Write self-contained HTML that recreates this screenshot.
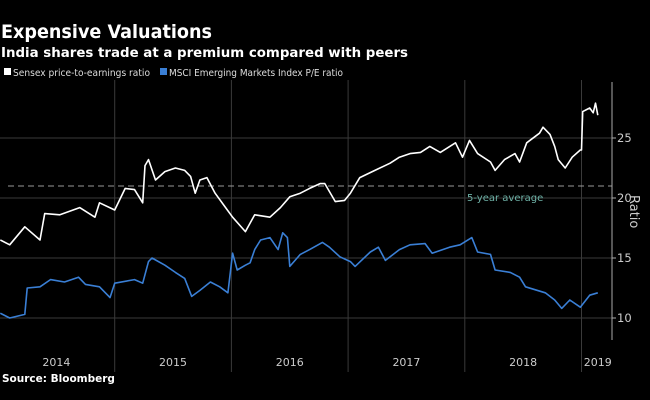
<!DOCTYPE html>
<html><head><meta charset="utf-8"><style>
body{margin:0;background:#000;width:650px;height:400px;overflow:hidden;font-family:"DejaVu Sans","Liberation Sans",sans-serif;color:#fff}
</style></head><body>
<svg id="c" width="650" height="400" style="position:absolute;left:0;top:0">
<text x="1" y="38" font-size="19" font-weight="bold" fill="#fff" textLength="211" lengthAdjust="spacingAndGlyphs">Expensive Valuations</text>
<text x="1" y="57" font-size="13.5" font-weight="bold" fill="#fff" textLength="407" lengthAdjust="spacingAndGlyphs">India shares trade at a premium compared with peers</text>
<g>
<rect x="4" y="68" width="7" height="7" fill="#fff"/>
<text x="13" y="76" font-size="10" fill="#ddd" textLength="137" lengthAdjust="spacingAndGlyphs">Sensex price-to-earnings ratio</text>
<rect x="160" y="68" width="7" height="7" fill="#3a7fd5"/>
<text x="169" y="76" font-size="10" fill="#ddd" textLength="174" lengthAdjust="spacingAndGlyphs">MSCI Emerging Markets Index P/E ratio</text>
</g>
<g id="grid"></g><g id="series"></g><g id="axes"></g>
<text x="2" y="382" font-size="10.5" font-weight="bold" fill="#fff">Source: Bloomberg</text>
</svg>
<script>
const yTicks=[10,15,20,25];
const years=["2014","2015","2016","2017","2018","2019"];
const avgValue=21;
const sensexT=[0.02,0.10,0.23,0.36,0.40,0.53,0.70,0.83,0.87,1.00,1.09,1.17,1.24,1.26,1.29,1.35,1.43,1.52,1.60,1.65,1.69,1.73,1.79,1.86,1.95,2.01,2.12,2.20,2.33,2.42,2.50,2.59,2.67,2.76,2.80,2.89,2.97,3.02,3.10,3.23,3.36,3.44,3.53,3.62,3.70,3.79,3.92,3.98,4.04,4.11,4.22,4.26,4.34,4.43,4.47,4.53,4.64,4.67,4.73,4.77,4.80,4.86,4.92,4.99,5.00,5.01,5.07,5.10,5.12,5.14];
const sensexV=[16.5,16.1,17.6,16.5,18.7,18.6,19.2,18.4,19.6,19.0,20.8,20.7,19.6,22.7,23.2,21.5,22.2,22.5,22.3,21.8,20.4,21.5,21.7,20.4,19.2,18.4,17.2,18.6,18.4,19.2,20.1,20.4,20.8,21.2,21.2,19.7,19.8,20.4,21.7,22.3,22.9,23.4,23.7,23.8,24.3,23.8,24.6,23.4,24.8,23.7,23.0,22.3,23.2,23.7,23.0,24.6,25.4,25.9,25.3,24.3,23.2,22.5,23.4,24.0,24.0,27.2,27.5,27.1,27.9,26.9];
const msciT=[0.02,0.10,0.23,0.25,0.36,0.45,0.57,0.69,0.75,0.87,0.96,1.00,1.17,1.24,1.29,1.32,1.43,1.52,1.60,1.66,1.73,1.82,1.90,1.97,2.01,2.05,2.12,2.16,2.20,2.25,2.33,2.40,2.44,2.48,2.50,2.59,2.67,2.78,2.84,2.93,3.02,3.06,3.19,3.26,3.32,3.44,3.53,3.66,3.72,3.87,3.96,4.06,4.11,4.22,4.26,4.39,4.47,4.52,4.69,4.77,4.83,4.90,4.99,5.07,5.14];
const msciV=[10.4,10.0,10.3,12.5,12.6,13.2,13.0,13.4,12.8,12.6,11.7,12.9,13.2,12.9,14.7,15.0,14.4,13.8,13.3,11.8,12.3,13.0,12.6,12.1,15.4,14.0,14.4,14.6,15.7,16.5,16.7,15.7,17.1,16.7,14.3,15.3,15.7,16.3,15.9,15.1,14.7,14.3,15.5,15.9,14.8,15.7,16.1,16.2,15.4,15.9,16.1,16.7,15.5,15.3,14.0,13.8,13.4,12.6,12.1,11.5,10.8,11.5,10.9,11.9,12.1];
const NS="http://www.w3.org/2000/svg";
const X0=-2,PX=116.7,AX=612;
const xs=t=>X0+t*PX;
const ys=v=>318-(v-10)*12;
function mk(tag,attrs,parent){const e=document.createElementNS(NS,tag);for(const k in attrs)e.setAttribute(k,attrs[k]);parent.appendChild(e);return e;}
const grid=document.getElementById('grid'),axes=document.getElementById('axes'),ser=document.getElementById('series');
yTicks.forEach(v=>{
 const l=mk('line',{x1:0,x2:AX,y1:ys(v),y2:ys(v),stroke:'#3a3a3a','stroke-width':1},grid);
 
 
 const tk=mk('line',{x1:AX,x2:AX+4,y1:ys(v),y2:ys(v),stroke:'#aaa'},axes);
 
 
 const t=mk('text',{x:AX+5,y:ys(v)+4,'font-size':11.5,fill:'#ccc'},axes);t.textContent=v;
 
 
});
years.forEach((y,i)=>{
 if(i>0){const l=mk('line',{x1:xs(i),x2:xs(i),y1:80,y2:372,stroke:'#3a3a3a'},grid);
 
 }
 const cx=i<5?xs(i+0.5):(xs(5)+AX)/2+1;
 const t=mk('text',{x:cx,y:366,'font-size':11,fill:'#ccc','text-anchor':'middle'},axes);t.textContent=y;
 
 
});
const ax=mk('line',{x1:AX,x2:AX,y1:82,y2:340,stroke:'#aaa'},axes);


const rt=mk('text',{x:0,y:0,'font-size':13,fill:'#ccc',transform:'translate(630,195) rotate(90)'},axes);rt.textContent='Ratio';


const av=mk('line',{x1:8,x2:AX,y1:ys(avgValue),y2:ys(avgValue),stroke:'#999','stroke-dasharray':'6,4'},grid);


const at=mk('text',{x:467,y:ys(avgValue)+15,'font-size':10,fill:'#6fb3a8'},grid);at.textContent='5-year average';


function line(T,V,col,name){
 const p=mk('polyline',{points:T.map((t,i)=>xs(t).toFixed(1)+','+ys(V[i]).toFixed(1)).join(' '),fill:'none',stroke:col,'stroke-width':1.6,'stroke-linejoin':'round'},ser);
 
 
}
line(msciT,msciV,'#3a7fd5','msci-line');
line(sensexT,sensexV,'#ffffff','sensex-line');
</script>
</body></html>
